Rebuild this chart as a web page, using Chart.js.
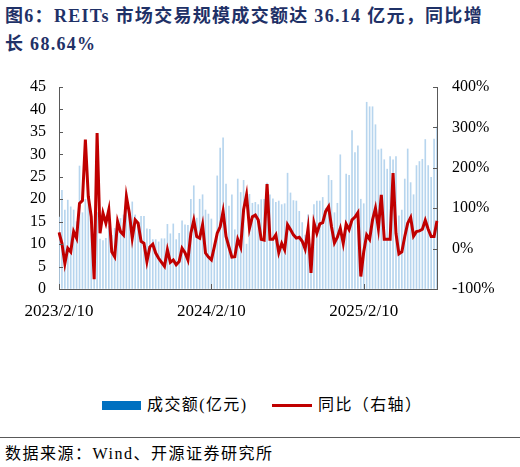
<!DOCTYPE html>
<html>
<head>
<meta charset="utf-8">
<script src="https://cdn.jsdelivr.net/npm/chart.js@4"></script>
<style>
  body { margin: 0; width: 520px; height: 467px; background: #fff; position: relative; overflow: hidden;
         font-family: "Liberation Serif", "Noto Sans CJK SC", serif; color: #000; }
  #title { position: absolute; left: 5px; top: 2px; font-size: 18px; font-weight: bold; color: #1F3167;
           line-height: 28px; letter-spacing: 1.3px; white-space: nowrap; }
  #box { position: absolute; left: 0; top: 60px; width: 520px; height: 270px; }
  .leg { position: absolute; font-size: 16px; letter-spacing: 1.4px; line-height: 20px; }
  #rule { position: absolute; left: 0; top: 437px; width: 520px; height: 1px; background: #595959; }
  #src { position: absolute; left: 5px; top: 444px; font-size: 16px; line-height: 20px; letter-spacing: 1.5px; }
</style>
</head>
<body>
<div id="title">图6：REITs 市场交易规模成交额达 36.14 亿元，同比增<br>长 68.64%</div>
<div id="box"><canvas id="chart"></canvas></div>
<div style="position:absolute;left:102px;top:401px;width:39px;height:9px;background:#0070C0"></div>
<div class="leg" style="left:147px;top:395px">成交额(亿元)</div>
<div style="position:absolute;left:272px;top:404px;width:40px;height:3px;background:#C00000"></div>
<div class="leg" style="left:318px;top:395px">同比（右轴）</div>
<div id="rule"></div>
<div id="src">数据来源：Wind、开源证券研究所</div>
<script>
// weekly data from 2023/2/10
const startDate = "2023/2/10";
const tickLabels = ["2023/2/10", "2024/2/10", "2025/2/10"];

// 成交额 (亿元)
const volume = [
  16, 22.0, 17.6, 19.8, 18.3, 17.6, 15.0, 27.4, 17.0, 20.0,
  21.0, 14.0, 10.9, 17.0, 11.1, 10.8, 11.3, 14.0, 12.0, 13.5,
  13.0, 15.7, 16.5, 21.5, 17.0, 19.4, 16.5, 14.5, 16.2, 16.2,
  13.4, 13.3, 11.0, 11.0, 10.5, 11.2, 11.2, 14.4, 12.3, 14.5,
  11.0, 12.4, 15.2, 14.3, 14.2, 20.0, 23.0, 15.8, 20.0, 21.0,
  17.6, 16.7, 15.6, 10.0, 25.2, 31.4, 33.7, 23.4, 18.5, 21.0,
  13.2, 24.5, 21.5, 24.2, 10.0, 21.1, 19.1, 19.3, 18.8, 19.9,
  20.0, 23.6, 21.0, 20.1, 19.3, 19.6, 18.8, 19.0, 25.8, 21.4,
  19.7, 19.6, 17.3, 14.8, 12.0, 16.5, 10.0, 18.8, 19.6, 19.6,
  20.4, 18.0, 25.3, 24.2, 17.0, 19.1, 29.9, 12.0, 25.6, 25.3,
  35.3, 30.4, 31.9, 20.0, 19.0, 41.6, 40.6, 40.6, 36.6, 31.0,
  31.2, 28.8, 26.7, 29.5, 28.8, 29.5, 16.3, 17.6, 24.5, 31.2,
  23.7, 21.0, 27.5, 28.4, 28.9, 33.3, 27.5, 24.9, 33.4, 36.14
];

// 同比 (%)
const yoy = [
  40, 13, -37, 1, -8, 42, 26, 112, 119, 270,
  129, 79, -76, 286, 38, 88, 63, 96, -8, -20,
  67, 42, 34, 129, 88, 26, 71, 63, 18, 13,
  -32, 4, 11, -11, -24, -34, -44, -3, -34, -28,
  -40, -32, 1, -10, -28, 38, 70, 30, 26, 59,
  -11, -21, -28, 4, 38, 54, 92, 30, 4, -21,
  -20, 23, 4, 96, 133, 50, 79, 83, 71, 23,
  21, 160, 23, 23, 34, -10, 13, -3, 59, 47,
  34, 26, 28, 18, -1, 50, -60, 64, 38, 61,
  64, 92, 104, 54, 14, 28, 50, 13, 61, 47,
  71, 78, 89, -69, -8, 34, 23, 71, 100, 50,
  133, 23, 23, 23, 187, 38, -13, -8, 30, 63,
  77, 31, 42, 44, 48, 70, 48, 30, 30, 68.64
];

const fmt = d => d.getFullYear() + "/" + (d.getMonth() + 1) + "/" + d.getDate();
const day0 = new Date(startDate);
const weeks = volume.map((v, i) => fmt(new Date(day0.getTime() + i * 7 * 864e5)));
// category index nearest to each labelled date
const tickIdx = tickLabels.map(s => Math.round((new Date(s) - day0) / (7 * 864e5)));

const axisColor = "#595959";
const tickFont = { family: "Liberation Serif", size: 16 };

const innerTicks = {
    id: "innerTicks",
    afterDraw(chart) {
        const { ctx, chartArea: a, scales } = chart;
        ctx.save();
        ctx.strokeStyle = axisColor;
        ctx.lineWidth = 1;
        ctx.beginPath();
        scales.y.ticks.forEach(t => {
            const p = Math.round(scales.y.getPixelForValue(t.value)) + 0.5;
            ctx.moveTo(a.left, p); ctx.lineTo(a.left + 4, p);
        });
        scales.y1.ticks.forEach(t => {
            const p = Math.round(scales.y1.getPixelForValue(t.value)) + 0.5;
            ctx.moveTo(a.right, p); ctx.lineTo(a.right - 4, p);
        });
        tickIdx.forEach(i => {
            const p = Math.round(scales.x.getPixelForValue(i)) + 0.5;
            ctx.moveTo(p, a.bottom); ctx.lineTo(p, a.bottom - 5);
        });
        ctx.stroke();
        ctx.restore();
    }
};

new Chart(document.getElementById("chart"), {
    type: "bar",
    data: {
        labels: weeks,
        datasets: [
            {
                type: "line",
                label: "同比（右轴）",
                data: yoy,
                yAxisID: "y1",
                borderColor: "#C00000",
                borderWidth: 3,
                pointRadius: 0,
                tension: 0,
                order: 0
            },
            {
                label: "成交额(亿元)",
                data: volume,
                yAxisID: "y",
                backgroundColor: "#B7D5EE",
                barThickness: 1,
                order: 1
            }
        ]
    },
    options: {
        responsive: true,
        maintainAspectRatio: false,
        animation: false,
        layout: { padding: { top: 27, left: 0, right: 0, bottom: 0 } },
        plugins: { legend: { display: false }, tooltip: { enabled: false } },
        scales: {
            x: {
                offset: false,
                grid: { display: true, drawOnChartArea: false, drawTicks: false },
                border: { display: true, color: axisColor },
                ticks: {
                    autoSkip: false,
                    maxRotation: 0,
                    padding: 12,
                    color: "#000",
                    font: { family: "Liberation Serif", size: 17 },
                    callback: (v, i) => {
                        const k = tickIdx.indexOf(i);
                        return k >= 0 ? tickLabels[k] : null;
                    }
                },
                afterFit: s => { s.height = 41; }
            },
            y: {
                position: "left",
                min: 0,
                max: 45,
                grid: { display: true, drawOnChartArea: false, drawTicks: false },
                border: { display: true, color: axisColor },
                ticks: { stepSize: 5, padding: 13, color: "#000", font: tickFont },
                afterFit: s => { s.width = 59; }
            },
            y1: {
                position: "right",
                min: -100,
                max: 400,
                grid: { display: true, drawOnChartArea: false, drawTicks: false },
                border: { display: true, color: axisColor },
                ticks: { stepSize: 50, padding: 15, color: "#000", font: tickFont, callback: v => v + "%" },
                afterFit: s => { s.width = 83; }
            }
        }
    },
    plugins: [innerTicks]
});
</script>
</body>
</html>
